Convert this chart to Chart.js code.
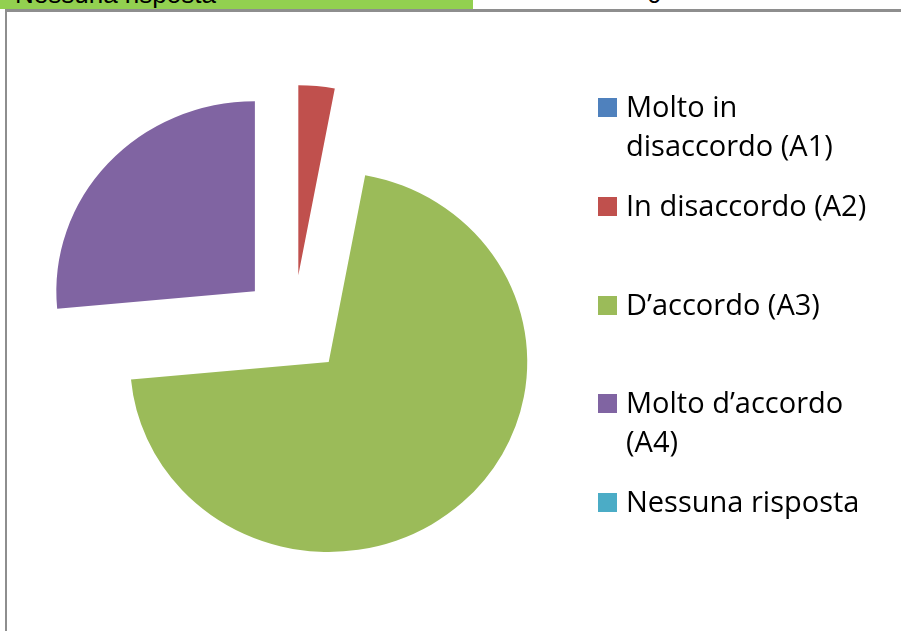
<!DOCTYPE html>
<html lang="it">
<head>
<meta charset="UTF-8">
<title>Grafico risposte</title>
<script src="https://cdn.jsdelivr.net/npm/chart.js"></script>
<style>
  html, body { margin: 0; padding: 0; background: #fff; }
  body { width: 901px; height: 631px; position: relative; overflow: hidden; }
  .riga { position: absolute; top: 0; height: 9px; font-family: "Liberation Sans", Arial, sans-serif; font-size: 26px; color: #000; }
  .riga span { position: absolute; top: -21px; line-height: 30px; white-space: nowrap; }
  #cella1 { left: 0; width: 473px; background: #92d050; }
  #cella2 { left: 473px; width: 428px; }
  #bordoTop { position: absolute; left: 5px; top: 9px; width: 896px; height: 3px; background: #8e8e8e; }
  #bordoLeft { position: absolute; left: 5px; top: 9px; width: 2px; height: 622px; background: #8e8e8e; }
  #grafico { position: absolute; left: 0; top: 0; }
  .voce { position: absolute; left: 598px; }
  .voce .box { position: absolute; left: 0; width: 19px; height: 19px; }
  .voce .testo { position: absolute; left: 28px; width: 262px; font-family: "Open Sans", sans-serif; font-size: 29px; line-height: 39px; color: #000; }
</style>
</head>
<body>
  <div class="riga" id="cella1"><span style="left:15px">Nessuna risposta</span></div>
  <div class="riga" id="cella2"><span style="left:174px">0</span></div>
  <div id="bordoTop"></div>
  <div id="bordoLeft"></div>
  <canvas id="grafico" width="901" height="631"></canvas>
  <div id="legenda"></div>

<script>
  // dati
  const categorie = ["Molto in disaccordo (A1)", "In disaccordo (A2)", "D’accordo (A3)", "Molto d’accordo (A4)", "Nessuna risposta"];
  const risposte = [0, 1, 24, 9, 0];
  const colori = ["#4f81bd", "#c0504d", "#9bbb59", "#8064a2", "#4bacc6"];

  const ESPLOSO = 50;      // distanza delle fette dal centro
  const STIRA_X = 1.045;   // il grafico originale e' un po' allargato
  const baseline = [117, 216, 315, 413, 512];  // righe della legenda

  // fette staccate dal centro (come il grafico di Excel)
  const esplodi = {
    id: "esplodi",
    beforeDatasetDraw(chart, args) {
      const ctx = chart.ctx;
      args.meta.data.forEach(function (arc) {
        const mid = (arc.startAngle + arc.endAngle) / 2;
        ctx.save();
        ctx.translate(arc.x, arc.y);
        ctx.scale(STIRA_X, 1);
        ctx.translate(-arc.x, -arc.y);
        ctx.translate(Math.cos(mid) * ESPLOSO, Math.sin(mid) * ESPLOSO);
        arc.draw(ctx);
        ctx.restore();
      });
      return false;
    }
  };

  new Chart(document.getElementById("grafico"), {
    type: "pie",
    data: {
      labels: categorie,
      datasets: [{
        data: risposte,
        backgroundColor: colori,
        borderWidth: 0,
        radius: 190,
        clip: false
      }]
    },
    options: {
      responsive: false,
      animation: false,
      events: [],
      layout: { padding: { top: 19, right: 314, bottom: 0, left: 0 } },
      plugins: {
        legend: { display: false },
        tooltip: { enabled: false }
      }
    },
    plugins: [esplodi]
  });

  // legenda a destra
  const legenda = document.getElementById("legenda");
  categorie.forEach(function (nome, i) {
    const voce = document.createElement("div");
    voce.className = "voce";
    voce.style.top = (baseline[i] - 31) + "px";
    voce.innerHTML = '<div class="box" style="top:12px;background:' + colori[i] + '"></div>' +
                     '<div class="testo">' + nome + '</div>';
    legenda.appendChild(voce);
  });
</script>
</body>
</html>
